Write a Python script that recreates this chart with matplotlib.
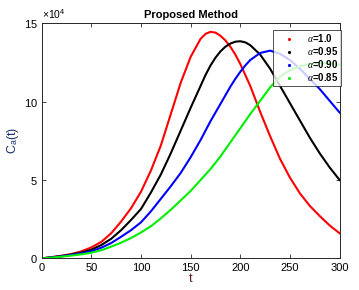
#!/usr/bin/env python3
import matplotlib
matplotlib.use('Agg')
import matplotlib.pyplot as plt
from matplotlib.lines import Line2D
import numpy as np

plt.rcParams['font.family'] = ['Liberation Sans', 'DejaVu Sans']
plt.rcParams['mathtext.fontset'] = 'custom'
plt.rcParams['mathtext.rm'] = 'Liberation Sans'
plt.rcParams['mathtext.it'] = 'Liberation Serif:italic'

# data (C_a in units of 1e4)
t = [0, 10, 20, 30, 40, 50, 60, 70, 80, 90, 100, 110, 120, 130, 140, 150,
     160, 165, 170, 175, 180, 185, 190, 195, 200, 205, 210, 220, 230, 240, 250,
     260, 270, 280, 290, 300]
ca_10 = [0, 0.08, 0.17, 0.28, 0.45, 0.7, 1.05, 1.6, 2.35, 3.2, 4.25, 5.6, 7.2, 9.2, 11.2, 12.85,
         14.0, 14.32, 14.45, 14.4, 14.2, 13.9, 13.5, 13.0, 12.4, 11.7, 11.0, 9.35, 7.8, 6.35, 5.15,
         4.15, 3.35, 2.7, 2.1, 1.6]
ca_095 = [0, 0.07, 0.15, 0.25, 0.37, 0.55, 0.85, 1.25, 1.8, 2.45, 3.15, 4.2, 5.35, 6.7, 8.15, 9.6,
          11.0, 11.7, 12.3, 12.8, 13.2, 13.5, 13.7, 13.82, 13.85, 13.78, 13.6, 13.0, 12.1, 11.0, 9.9,
          8.8, 7.7, 6.7, 5.8, 5.0]
ca_090 = [0, 0.06, 0.13, 0.22, 0.32, 0.45, 0.68, 0.98, 1.38, 1.8, 2.3, 3.0, 3.8, 4.6, 5.45, 6.45,
          7.55, 8.15, 8.75, 9.3, 9.85, 10.4, 10.95, 11.45, 11.9, 12.3, 12.65, 13.1, 13.25, 13.05, 12.65,
          12.1, 11.45, 10.8, 10.05, 9.3]
ca_085 = [0, 0.05, 0.11, 0.18, 0.26, 0.36, 0.52, 0.75, 1.0, 1.3, 1.65, 2.05, 2.55, 3.1, 3.7, 4.3,
          5.0, 5.35, 5.7, 6.1, 6.5, 6.95, 7.4, 7.85, 8.3, 8.75, 9.2, 10.05, 10.9, 11.6, 12.0,
          12.25, 12.4, 12.45, 12.45, 12.35]

series = [(ca_10, 'red', '1.0'), (ca_095, 'black', '0.95'),
          (ca_090, 'blue', '0.90'), (ca_085, '#00ee00', '0.85')]

fig = plt.figure(figsize=(3.59, 2.90), dpi=100)
ax = fig.add_axes([0.116, 0.109, 0.830, 0.811])

handles = []
for vals, col, lab in series:
    ax.plot(t, np.array(vals) * 1e4, color=col, lw=1.5, solid_joinstyle='round')
    handles.append(Line2D([], [], ls='none', marker='.', ms=2.5, color=col,
                          label=r'$\alpha$=' + lab))

ax.set_xlim(0, 300)
ax.set_ylim(0, 15e4)
ax.set_xticks([0, 50, 100, 150, 200, 250, 300])
ax.set_yticks([0, 5e4, 10e4, 15e4])
ax.ticklabel_format(axis='y', style='sci', scilimits=(4, 4), useMathText=True)
ax.yaxis.get_offset_text().set_fontsize(7.5)
ax.tick_params(direction='in', top=True, right=True, labelsize=8, length=3,
               width=0.6, color='#262626', pad=3)
for s in ax.spines.values():
    s.set_color('#262626')
    s.set_linewidth(0.7)

ax.set_title('Proposed Method', fontsize=8, fontweight='bold', pad=4)
ax.set_xlabel('t', fontsize=9, color='#5a1a1a', labelpad=0)
ax.set_ylabel(r'C$_{\mathrm{a}}$(t)', fontsize=9, color='#1a2f6a', labelpad=2)

leg = ax.legend(handles=handles, loc='upper right', bbox_to_anchor=(1.005, 0.972),
                borderaxespad=0, fontsize=7, frameon=True, fancybox=False,
                handlelength=2.8, handletextpad=0.5, borderpad=0.25, labelspacing=0.1)
leg.get_frame().set_edgecolor('#262626')
leg.get_frame().set_linewidth(0.7)
for txt in leg.get_texts():
    txt.set_fontweight('bold')

fig.savefig('out.png', dpi=100)
